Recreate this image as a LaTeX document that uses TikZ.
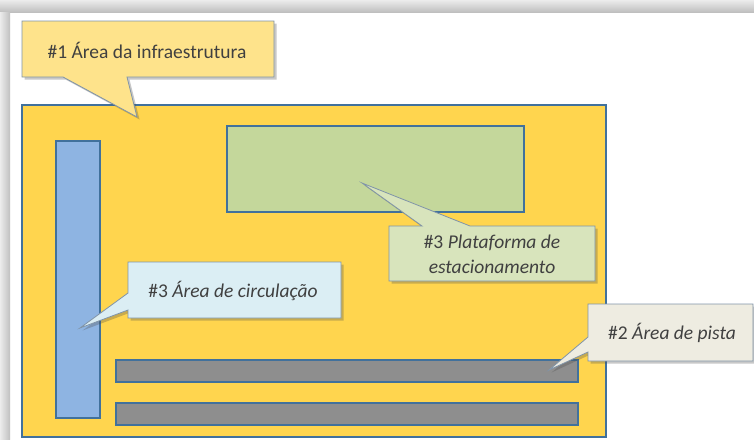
\documentclass[tikz,border=0pt]{standalone}
\usepackage{fontspec}
\setmainfont{Carlito}
\usetikzlibrary{shadows}
\definecolor{frameblue}{RGB}{65,113,156}
\definecolor{infrayellow}{RGB}{255,213,78}
\definecolor{c1fill}{RGB}{254,227,139}
\definecolor{greenrect}{RGB}{196,215,155}
\definecolor{platfill}{RGB}{216,228,188}
\definecolor{bluerect}{RGB}{142,180,226}
\definecolor{circfill}{RGB}{219,238,244}
\definecolor{bargray}{RGB}{142,142,142}
\definecolor{pistafill}{RGB}{238,236,225}
\definecolor{calloutline}{RGB}{128,148,168}
\definecolor{txt}{RGB}{64,64,64}
\begin{document}
\begin{tikzpicture}[x=1pt,y=-1pt,
  area/.style={draw=frameblue, line width=2pt, inner sep=0pt, outer sep=0pt, anchor=north west},
  callout/.style={draw=calloutline, line width=0.8pt, line join=miter,
    drop shadow={opacity=0.3, shadow xshift=2.5pt, shadow yshift=-2.5pt, fill=black!70}},
  label/.style={text=txt, font=\fontsize{19.5}{25}\selectfont, align=center, inner sep=0pt}
]
\useasboundingbox (0,0) rectangle (754,439);
\fill[white] (0,0) rectangle (754,439);
% window shadow frame
\shade[top color=gray!15, bottom color=gray!50] (0,0) rectangle (754,12);
\shade[left color=gray!15, right color=gray!50] (0,12) rectangle (10,439);

% infrastructure area
\node[area, fill=infrayellow, minimum width=584pt, minimum height=332pt] (infra) at (22,105) {};
% parking platform
\node[area, fill=greenrect, minimum width=297pt, minimum height=86pt] (plat) at (227,126) {};
% circulation area
\node[area, fill=bluerect, minimum width=44pt, minimum height=277pt] (circ) at (56,141) {};
% runways
\node[area, fill=bargray, minimum width=462pt, minimum height=22pt] (pista1) at (116,360) {};
\node[area, fill=bargray, minimum width=462pt, minimum height=22pt] (pista2) at (116,403) {};

% callout #1
\coordinate (tip1) at (137,117);
\draw[callout, fill=c1fill] (22,21) -- (274,21) -- (274,77) -- (127,77) -- (tip1) -- (63,77) -- (22,77) -- cycle;
\node[label] (t1) at (147,50) {\#1 Área da infraestrutura};

% callout #3 platform
\coordinate (tip2) at (362,183);
\draw[callout, fill=platfill] (389,226) -- (422,226) -- (tip2) -- (470,226) -- (595,226) -- (595,281) -- (389,281) -- cycle;
\node[label] (t2) at (492,254) {\#3 \textit{Plataforma de}\\\textit{estacionamento}};

% callout #3 circulation
\coordinate (tip3) at (80,328);
\draw[callout, fill=circfill] (128,262) -- (341,262) -- (341,318) -- (128,318) -- (128,310) -- (tip3) -- (128,293) -- cycle;
\node[label] (t3) at (233,291) {\#3 \textit{Área de circulação}};

% callout #2 runway
\coordinate (tip4) at (549,370);
\draw[callout, fill=pistafill] (588,304) -- (753,304) -- (753,361) -- (588,361) -- (588,352) -- (tip4) -- (588,337) -- cycle;
\node[label, anchor=west] (t4) at (608,333) {\#2 \textit{Área de pista}};
\end{tikzpicture}
\end{document}
